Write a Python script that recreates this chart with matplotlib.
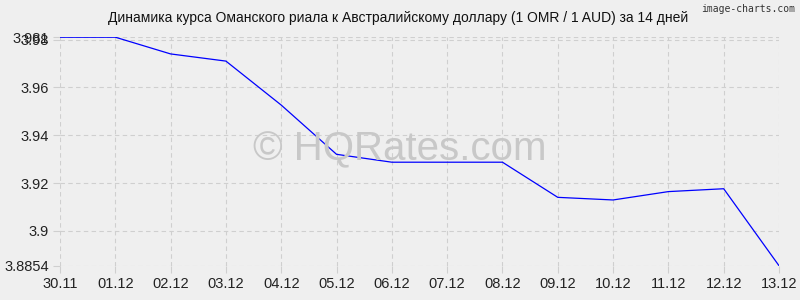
import matplotlib
matplotlib.use("Agg")
import matplotlib.pyplot as plt

dates = ["30.11", "01.12", "02.12", "03.12", "04.12", "05.12", "06.12",
         "07.12", "08.12", "09.12", "10.12", "11.12", "12.12", "13.12"]
values = [3.981, 3.981, 3.9740, 3.9710, 3.9526, 3.9320, 3.9287,
          3.9287, 3.9287, 3.9140, 3.9129, 3.9164, 3.9176, 3.8854]
yticks = [3.8854, 3.9, 3.92, 3.94, 3.96, 3.98, 3.981]
ytick_labels = ["3.8854", "3.9", "3.92", "3.94", "3.96", "3.98", "3.981"]
title = "Динамика курса Оманского риала к Австралийскому доллару (1 OMR / 1 AUD) за 14 дней"

plt.rcParams['font.family'] = ['Liberation Sans', 'DejaVu Sans']
bg = "#efefef"
fig = plt.figure(figsize=(8, 3), dpi=100, facecolor=bg)
ax = fig.add_axes([60/800, 1 - 265.7/300, (779-60)/800, (265.7-37.2)/300])
ax.set_facecolor(bg)

x = list(range(len(dates)))
ax.plot(x, values, color="#0000ff", lw=0.9, zorder=3)

ax.set_xlim(0, len(dates) - 1)
ax.set_ylim(yticks[0], yticks[-1])
ax.set_xticks(x)
ax.set_xticklabels(dates)
ax.set_yticks(yticks)
ax.set_yticklabels(ytick_labels)
ax.grid(True, color="#cfcfcf", linestyle=(0, (4, 3)), lw=0.8)
for s in ax.spines.values():
    s.set_visible(False)
ax.tick_params(axis='both', colors="#cfcfcf", labelcolor="#222222",
               labelsize=10.5, length=5, width=0.8)
ax.tick_params(axis='x', pad=3)
ax.tick_params(axis='y', pad=3)

fig.text(398/800, 1 - 18/300, title, ha="center", va="center",
         fontsize=10, color="#111111")
fig.text(795/800, 1 - 9/300, "image-charts.com", ha="right", va="center",
         fontsize=7, color="#333333", family=['DejaVu Sans Mono', 'DejaVu Sans'])
fig.text(400/800, 1 - 149/300, "© HQRates.com", ha="center", va="center",
         fontsize=29, color="#c8c8c8", zorder=1)

fig.savefig("out.png", dpi=100, facecolor=bg)
